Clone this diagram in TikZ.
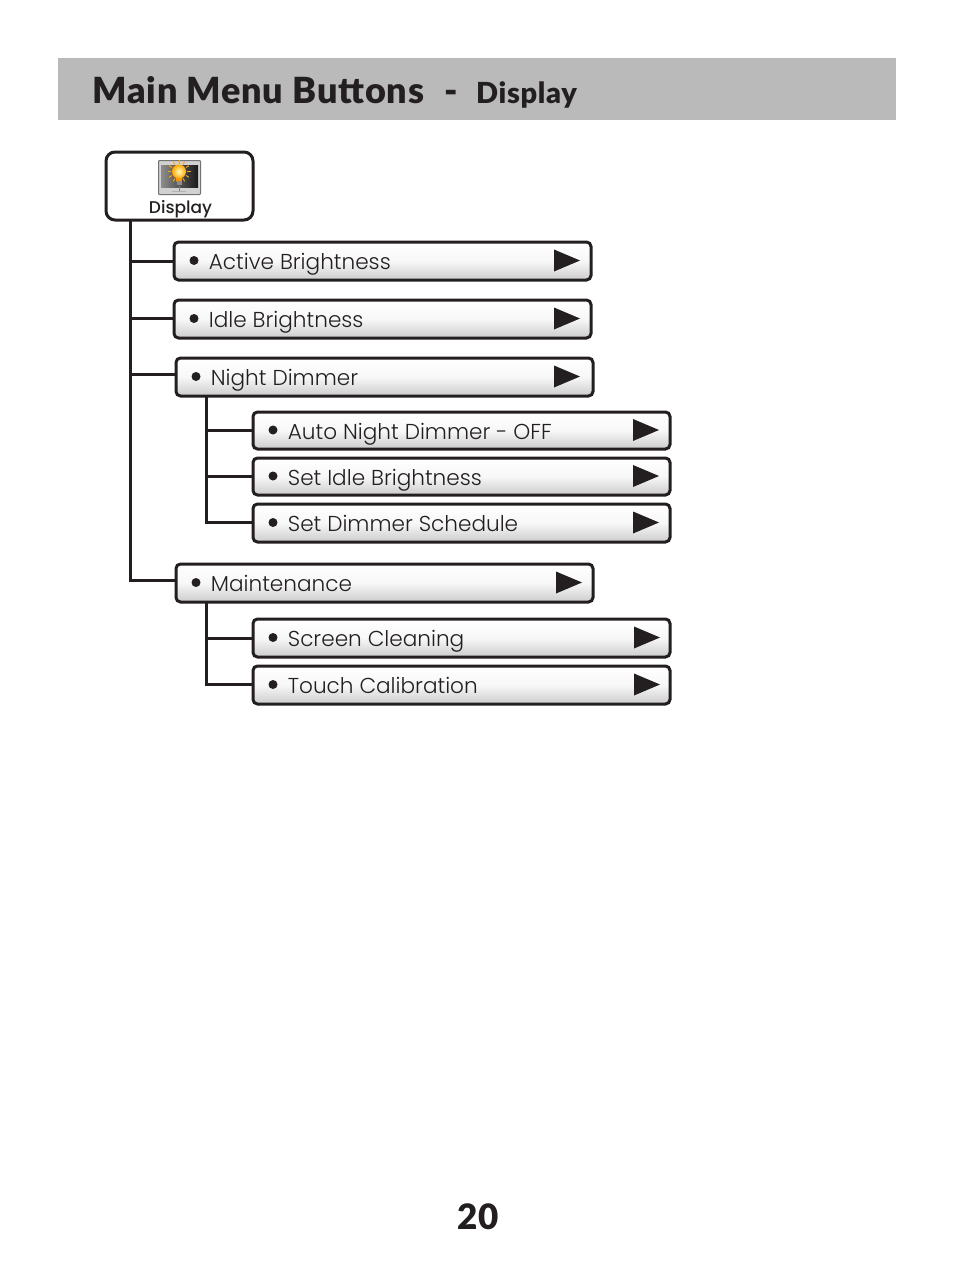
\documentclass[tikz,border=0pt]{standalone}
\usepackage{fontspec}
\setmainfont{Poppins}[UprightFont=* Light,BoldFont=* Medium]
\newfontfamily\headfont{Lato}[UprightFont=* Black,BoldFont=* Black,LetterSpace=2.2]
\newfontfamily\pagefont{Lato}[UprightFont=* Black,BoldFont=* Black]
\definecolor{ink}{HTML}{231F20}
\definecolor{band}{HTML}{BABABA}
\tikzset{
  menubox/.style={draw=ink,line width=3pt,rounded corners=4.5pt,top color=white,bottom color=black!20,middle color=black!3,inner sep=0pt},
  link/.style={draw=ink,line width=3pt,line cap=butt,line join=miter},
  dot/.style={circle,fill=ink,inner sep=0pt,minimum size=9pt},
  label/.style={anchor=base west,inner sep=0pt,text=ink,font=\fontsize{21.6}{22}\selectfont},
  tri/.style={fill=ink,draw=none},
}
\newcommand{\menubtn}[7]{% name x1 y1 x2 y2 text triangle-shift
  \path[menubox] (#2,#3) rectangle (#4,#5);
  \node[minimum width=#4pt-#2pt,minimum height=#5pt-#3pt,inner sep=0pt,outer sep=0pt] (#1) at ({(#2+#4)/2},{(#3+#5)/2}) {};
  \node[dot] (#1dot) at ({#2+20},{(#3+#5)/2-.5}) {};
  \node[label] (#1txt) at ({#2+34.7},{(#3+#5)/2+8.5}) {#6};
  \fill[tri] ({#4-37+#7},{(#3+#5)/2-11.5}) -- ({#4-11+#7},{(#3+#5)/2-.5}) -- ({#4-37+#7},{(#3+#5)/2+10.5}) -- cycle;
}
\begin{document}
\begin{tikzpicture}[x=1pt,y=-1pt]
\useasboundingbox (0,0) rectangle (954,1272);
\fill[white] (0,0) rectangle (954,1272);
\node[fill=band,minimum width=838pt,minimum height=62pt,inner sep=0pt,anchor=north west] (header) at (58,58) {};
\node[anchor=base west,inner sep=0pt,text=ink,font=\headfont\fontsize{36}{36}\selectfont] (title) at (92,103) {Main Menu Buttons};
\node[anchor=base west,inner sep=0pt,text=ink,font=\headfont\fontsize{36}{36}\selectfont] (dash) at (444,103) {-};
\node[anchor=base west,inner sep=0pt,text=ink,font=\headfont\fontsize{29}{29}\selectfont] (subtitle) at (476,103) {Display};
\node[inner sep=0pt,text=ink,font=\pagefont\fontsize{35}{35}\selectfont,anchor=base] (page) at (478,1229.5) {20};
% connectors
\coordinate (trunk) at (130,220);
\coordinate (mj) at (176,580);
\coordinate (nj) at (206,396);
\coordinate (nend) at (253,522);
\coordinate (mk) at (206,602);
\coordinate (mend) at (253,684);
\coordinate (ab) at (174,261);
\coordinate (ib) at (174,318);
\coordinate (nb) at (176,374);
\coordinate (a1) at (253,430);
\coordinate (a2) at (253,476);
\coordinate (s1) at (253,638);
\draw[link] (trunk) |- (mj);
\draw[link] (trunk |- ab) -- (ab);
\draw[link] (trunk |- ib) -- (ib);
\draw[link] (trunk |- nb) -- (nb);
\draw[link] (nj) |- (nend);
\draw[link] (nj |- a1) -- (a1);
\draw[link] (nj |- a2) -- (a2);
\draw[link] (mk) |- (mend);
\draw[link] (mk |- s1) -- (s1);
% top box
\path[draw=ink,line width=3pt,rounded corners=9pt,fill=white] (106,152) rectangle (253,220);
\node[minimum width=147pt,minimum height=68pt,inner sep=0pt] (display) at (179.5,186) {};
\node[anchor=base,inner sep=0pt,text=ink,font=\bfseries\fontsize{17}{17}\selectfont] (displaytxt) at (180.5,213) {Display};
% icon
\fill[black!18] (158,160) rectangle (201,195);
\draw[black!55,line width=1pt,rounded corners=1pt] (158.5,160.5) rectangle (200.5,194.5);
\shade[left color=black!45,right color=black!90] (161,165) rectangle (198,187);
\draw[black!30,line width=1pt] (172,191.5) -- (186,191.5);
\draw[black!50,line width=1pt] (179,186) -- (179,191);
\foreach \a in {0,30,...,330}{\draw[orange!70!yellow,line width=.9pt] ({179+8*cos(\a)},{171.5+8*sin(\a)}) -- ({179+11.5*cos(\a)},{171.5+11.5*sin(\a)});}
\fill[orange!85!yellow] (175.5,176) -- (182.5,176) -- (181.5,182) -- (176.5,182) -- cycle;
\shade[inner color=yellow!25,outer color=orange!70!yellow] (179,171.5) circle (7);
\fill[black!45] (176.5,181) rectangle (181.5,185);
% menu
\menubtn{active}{174}{242}{591}{280}{Active Brightness}{0}
\menubtn{idle}{174}{300}{591}{338}{Idle Brightness}{0}
\menubtn{night}{176}{358}{593}{396}{Night Dimmer}{-2}
\menubtn{autond}{253}{412}{670}{449}{Auto Night Dimmer - OFF}{0}
\menubtn{setidle}{253}{458}{670}{495}{Set Idle Brightness}{0}
\menubtn{setdim}{253}{504}{670}{542}{Set Dimmer Schedule}{0}
\menubtn{maint}{176}{564}{593}{602}{Maintenance}{0}
\menubtn{screen}{253}{619}{670}{657}{Screen Cleaning}{1}
\menubtn{touch}{253}{666}{670}{704}{Touch Calibration}{1}
\end{tikzpicture}
\end{document}
